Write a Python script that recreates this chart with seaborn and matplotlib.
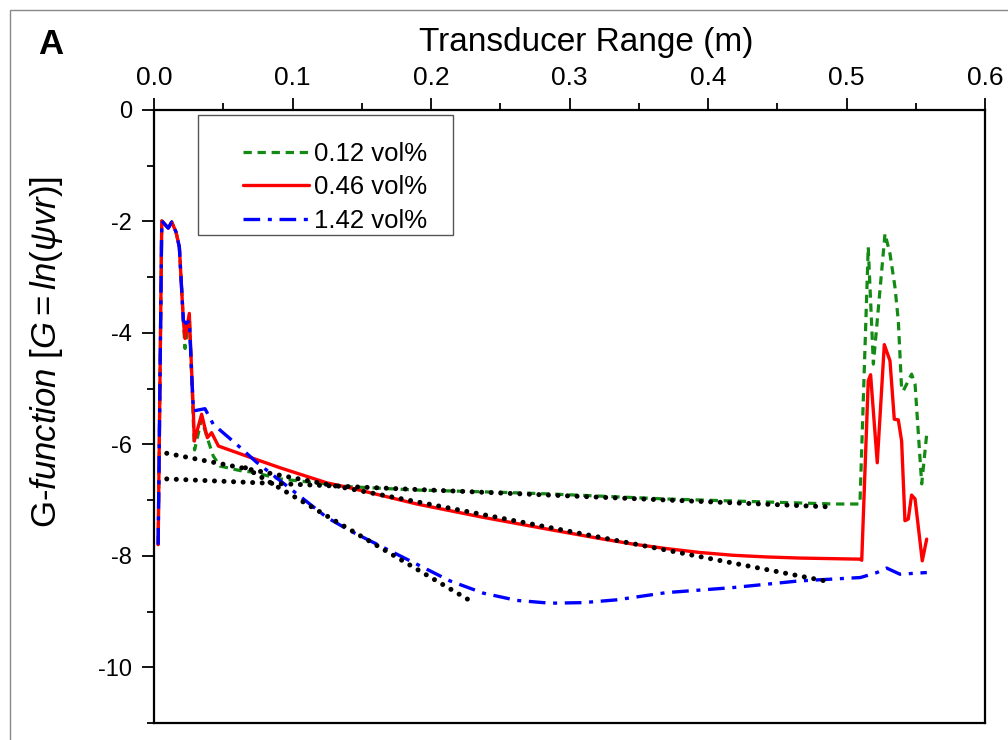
import numpy as np
import pandas as pd
import matplotlib
matplotlib.use("Agg")
import matplotlib.pyplot as plt
import seaborn as sns
from matplotlib.patches import Rectangle
from matplotlib.ticker import MultipleLocator

# ---------------- data ----------------
series_labels = ["0.12 vol%", "0.46 vol%", "1.42 vol%"]

g012_x = [0.003, 0.0056, 0.0103, 0.0128, 0.0159, 0.0183, 0.0212, 0.0224, 0.0255, 0.026,
          0.0284, 0.0293, 0.0343, 0.0392, 0.0428, 0.0477, 0.062, 0.0717, 0.091, 0.1247,
          0.1415, 0.19, 0.25, 0.286, 0.37, 0.4905, 0.5097, 0.5157, 0.5194, 0.5278,
          0.5314, 0.535, 0.5374, 0.5398, 0.541, 0.5422, 0.547, 0.5495, 0.5543, 0.5579]
g012_y = [-7.8, -1.99, -2.12, -2.01, -2.19, -2.46, -3.78, -4.28, -3.7, -4.0,
          -5.6, -6.1, -5.55, -5.94, -6.21, -6.39, -6.47, -6.5, -6.62, -6.71,
          -6.76, -6.82, -6.86, -6.89, -6.98, -7.07, -7.07, -2.46, -4.56, -2.22,
          -2.58, -3.18, -3.78, -5.01, -5.04, -4.98, -4.74, -4.92, -6.71, -5.82]

g046_x = [0.003, 0.0056, 0.0103, 0.0128, 0.0159, 0.0183, 0.0212, 0.0224, 0.0255, 0.026,
          0.0284, 0.0291, 0.0344, 0.0385, 0.0416, 0.0465, 0.0668, 0.091, 0.1247, 0.1415,
          0.1897, 0.2378, 0.286, 0.322, 0.346, 0.370, 0.394, 0.418, 0.442, 0.466,
          0.5097, 0.511, 0.5157, 0.5174, 0.5222, 0.5273, 0.5314, 0.5345, 0.5374, 0.5398,
          0.5422, 0.5446, 0.547, 0.5495, 0.5547, 0.5579]
g046_y = [-7.8, -1.99, -2.12, -2.01, -2.19, -2.46, -3.78, -4.10, -3.65, -3.99,
          -5.4, -5.94, -5.46, -5.88, -5.79, -6.03, -6.21, -6.42, -6.69, -6.78,
          -7.07, -7.31, -7.53, -7.69, -7.79, -7.87, -7.94, -7.99, -8.02, -8.04,
          -8.06, -8.08, -4.86, -4.75, -6.33, -4.21, -4.50, -5.55, -5.56, -5.94,
          -7.37, -7.34, -6.91, -6.98, -8.09, -7.70]

g142_x = [0.003, 0.0056, 0.0103, 0.0128, 0.0159, 0.0183, 0.0212, 0.0231, 0.0255, 0.0284,
          0.0368, 0.0428, 0.0597, 0.074, 0.091, 0.1247, 0.1415, 0.1656, 0.1897, 0.2137,
          0.2378, 0.2619, 0.286, 0.31, 0.334, 0.370, 0.418, 0.466, 0.510, 0.522,
          0.529, 0.5386, 0.558]
g142_y = [-7.8, -1.99, -2.12, -2.01, -2.19, -2.46, -3.78, -3.83, -3.78, -5.40,
          -5.36, -5.64, -6.0, -6.32, -6.65, -7.31, -7.55, -7.85, -8.15, -8.45,
          -8.67, -8.80, -8.85, -8.84, -8.79, -8.66, -8.57, -8.45, -8.39, -8.30,
          -8.22, -8.33, -8.30]

# linear fits (black dotted lines): start / end points
fit_a_x = [0.0092, 0.4845]
fit_a_y = [-6.16, -8.45]
fit_b_x = [0.0092, 0.4857]
fit_b_y = [-6.62, -7.12]
fit_c_x = [0.066, 0.2306]
fit_c_y = [-6.42, -8.84]

x_ticks = [0.0, 0.1, 0.2, 0.3, 0.4, 0.5, 0.6]
y_ticks = [0, -2, -4, -6, -8, -10]

# ---------------- styling ----------------
sns.set_style("ticks")
plt.rcParams["font.family"] = ["Liberation Sans", "DejaVu Sans"]
plt.rcParams["axes.unicode_minus"] = False
plt.rcParams["mathtext.fontset"] = "custom"
plt.rcParams["mathtext.rm"] = "Liberation Sans"
plt.rcParams["mathtext.it"] = "Liberation Sans:italic"
for k in ["text.color", "axes.labelcolor", "xtick.color", "ytick.color", "axes.edgecolor"]:
    plt.rcParams[k] = "black"

W, H = 1008, 740
fig = plt.figure(figsize=(W / 100, H / 100), dpi=100)
ax = fig.add_axes([154 / W, 17 / H, 831 / W, 613 / H])

series = [
    (g012_x, g012_y, "#138a13", (0, (2.6, 1.8)), 2.3),
    (g046_x, g046_y, "#ff0000", "-", 2.4),
    (g142_x, g142_y, "#0000ff", (0, (5, 2.3, 1.2, 2.3)), 2.4),
]
for (xs, ys, col, ls, lw), lab in zip(series, series_labels):
    df = pd.DataFrame({"x": xs, "y": ys})
    sns.lineplot(data=df, x="x", y="y", ax=ax, color=col, linestyle=ls, lw=lw,
                 sort=False, estimator=None, label=lab)

for fx, fy in [(fit_a_x, fit_a_y), (fit_b_x, fit_b_y), (fit_c_x, fit_c_y)]:
    df = pd.DataFrame({"x": fx, "y": fy})
    sns.lineplot(data=df, x="x", y="y", ax=ax, color="black", linestyle=(0, (0.01, 1.9)),
                 lw=3.6, dash_capstyle="round", sort=False, estimator=None,
                 label="_nolegend_", zorder=5)

ax.set_xlim(0, 0.6)
ax.set_ylim(-11, 0)
ax.set_xticks(x_ticks)
ax.set_xticklabels([f"{v:.1f}" for v in x_ticks])
ax.set_yticks(y_ticks)
ax.set_yticklabels([str(v) for v in y_ticks])
ax.xaxis.set_minor_locator(MultipleLocator(0.05))
ax.yaxis.set_minor_locator(MultipleLocator(1))

ax.xaxis.tick_top()
ax.tick_params(which="both", direction="out", top=True, bottom=False, left=True,
               right=False, labeltop=True, labelbottom=False, width=1.3, color="black")
ax.tick_params(which="major", length=8.6, pad=7)
ax.tick_params(axis="x", which="major", labelsize=19, pad=6)
ax.tick_params(axis="y", which="major", labelsize=17)
ax.tick_params(which="minor", length=4.8)
for s in ax.spines.values():
    s.set_visible(True)
    s.set_linewidth(1.6)
    s.set_color("black")

ax.set_xlabel("Transducer Range (m)", fontsize=24)
ax.xaxis.set_label_position("top")
ax.xaxis.label.set_va("center")
ax.xaxis.set_label_coords((586 - 154) / 831, (723 - 43) / 613)

ax.set_ylabel(r"G-$\mathit{function\ [G{=}ln(\psi vr)]}$", fontsize=25)
ax.yaxis.label.set_va("center")
ax.yaxis.set_label_coords((47 - 154) / 831, (723 - 352) / 613)

leg = ax.legend(loc="upper left", bbox_to_anchor=((243 - 154) / 831, (723 - 142) / 613),
                frameon=False, fontsize=18.5, handlelength=2.55, handletextpad=0.2,
                borderpad=0, borderaxespad=0, labelspacing=0.36)

ax.add_patch(Rectangle(((197.7 - 154) / 831, (723 - 235) / 613), 255 / 831, 120 / 613,
                       transform=ax.transAxes, fill=False, ec="#555555", lw=1.0, zorder=6))

fig.text(38 / W, 1 - 45 / H, "A", fontsize=25, fontweight="bold", va="center", ha="left")
fig.add_artist(Rectangle((10 / W, -0.05), 1.1, 1 - 10 / H + 0.05, transform=fig.transFigure,
                         fill=False, ec="#888888", lw=1.0))

fig.savefig("out.png", dpi=100)
